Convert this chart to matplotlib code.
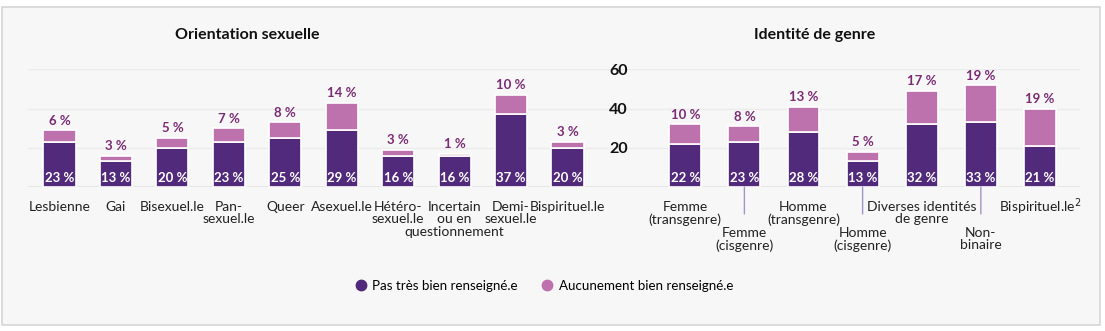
import matplotlib
matplotlib.use("Agg")
import matplotlib.pyplot as plt
from matplotlib.patches import Rectangle
from matplotlib.lines import Line2D

plt.rcParams['font.family'] = ['Lato', 'DejaVu Sans']

# ---------------- data ----------------
orient_labels = ['Lesbienne', 'Gai', 'Bisexuel.le', 'Pan-\nsexuel.le', 'Queer', 'Asexuel.le',
                 'Hétéro-\nsexuel.le', 'Incertain\nou en\nquestionnement', 'Demi-\nsexuel.le',
                 'Bispirituel.le']
orient_pas = [23, 13, 20, 23, 25, 29, 16, 16, 37, 20]
orient_aucun = [6, 3, 5, 7, 8, 14, 3, 1, 10, 3]

genre_labels = ['Femme\n(transgenre)', 'Femme\n(cisgenre)', 'Homme\n(transgenre)', 'Homme\n(cisgenre)',
                'Diverses identités\nde genre', 'Non-\nbinaire', 'Bispirituel.le$^2$']
genre_pas = [22, 23, 28, 13, 32, 33, 21]
genre_aucun = [10, 8, 13, 5, 17, 19, 19]
genre_low = [False, True, False, True, False, True, False]   # labels pushed down a row

yticks = [0, 20, 40, 60]
legend_labels = ['Pas très bien renseigné.e', 'Aucunement bien renseigné.e']

DARK = '#522a7c'
PINK = '#bd71ad'
TOPTXT = '#7b2b74'
GRID = '#ececec'

W, H = 1105, 331
fig = plt.figure(figsize=(W / 100, H / 100), dpi=100)
fig.patch.set_facecolor('white')
fig.add_artist(Rectangle((2 / W, 6 / H), 1098 / W, 318 / H, transform=fig.transFigure,
                         facecolor='#f7f7f7', edgecolor='#d6d6d6', linewidth=1.2, zorder=-10))

bottom = (H - 187) / H
height = (187 - 69.3) / H
ax1 = fig.add_axes([28 / W, bottom, (600 - 28) / W, height])
ax2 = fig.add_axes([600 / W, bottom, (1080 - 600) / W, height])


def draw(ax, labels, pas, aucun, width, low=None):
    x = list(range(len(labels)))
    ax.set_facecolor('none')
    for s in ax.spines.values():
        s.set_visible(False)
    ax.set_ylim(0, 60)
    ax.set_yticks(yticks)
    ax.grid(axis='y', color=GRID, linewidth=1, zorder=0)
    ax.axhline(0, color='#e2e2e2', linewidth=1.2, zorder=1)
    ax.tick_params(length=0)
    ax.set_xticks([])
    ax.bar(x, pas, width, color=DARK, edgecolor='white', linewidth=1.2, zorder=2)
    ax.bar(x, aucun, width, bottom=pas, color=PINK, edgecolor='white', linewidth=1.2, zorder=2)
    for i in x:
        ax.annotate(f'{aucun[i]} %', (i, pas[i] + aucun[i]), xytext=(0, 2.5), textcoords='offset points',
                    ha='center', va='bottom', color=TOPTXT, fontsize=9.5, fontweight='bold')
        ax.annotate(f'{pas[i]} %', (i, 0), xytext=(0, 2), textcoords='offset points',
                    ha='center', va='bottom', color='white', fontsize=9.5, fontweight='bold', zorder=3)
        drop = 0
        if low is not None and low[i]:
            drop = 18.7
            ax.annotate('', (i, 0), xytext=(0, -19.4), textcoords='offset points',
                        arrowprops=dict(arrowstyle='-', color='#a594c0', lw=1, shrinkA=0, shrinkB=0))
        # one text per line so the wrapped labels sit like the original
        for k, line in enumerate(labels[i].split('\n')):
            ax.annotate(line, (i, 0), xytext=(0, -14.2 - drop - 9.1 * k), textcoords='offset points',
                        ha='center', va='center', color='#222222', fontsize=10,
                        annotation_clip=False)


draw(ax1, orient_labels, orient_pas, orient_aucun, 0.57)
ax1.set_xlim(-0.558, 9.575)
ax1.set_yticklabels([])

draw(ax2, genre_labels, genre_pas, genre_aucun, 0.54, genre_low)
ax2.set_xlim(-1.443, 6.678)
ax2.set_yticklabels(['', '20', '40', '60'], fontsize=11.5, fontweight='bold', color='#111111')
ax2.tick_params(axis='y', pad=-20)

fig.text(247 / W, 1 - 35 / H, 'Orientation sexuelle', ha='center', va='center',
         fontsize=11.5, fontweight='bold', color='#111111')
fig.text(815 / W, 1 - 35 / H, 'Identité de genre', ha='center', va='center',
         fontsize=11.5, fontweight='bold', color='#111111')

handles = [Line2D([], [], marker='o', linestyle='none', markersize=7.5, color=c) for c in (DARK, PINK)]
fig.legend(handles, legend_labels, loc='center', bbox_to_anchor=(543 / W, 1 - 286 / H), ncol=2,
           frameon=False, fontsize=9.6, handletextpad=0.25, columnspacing=1.6, handlelength=1.2)

fig.savefig('out.png', dpi=100, facecolor=fig.get_facecolor())
